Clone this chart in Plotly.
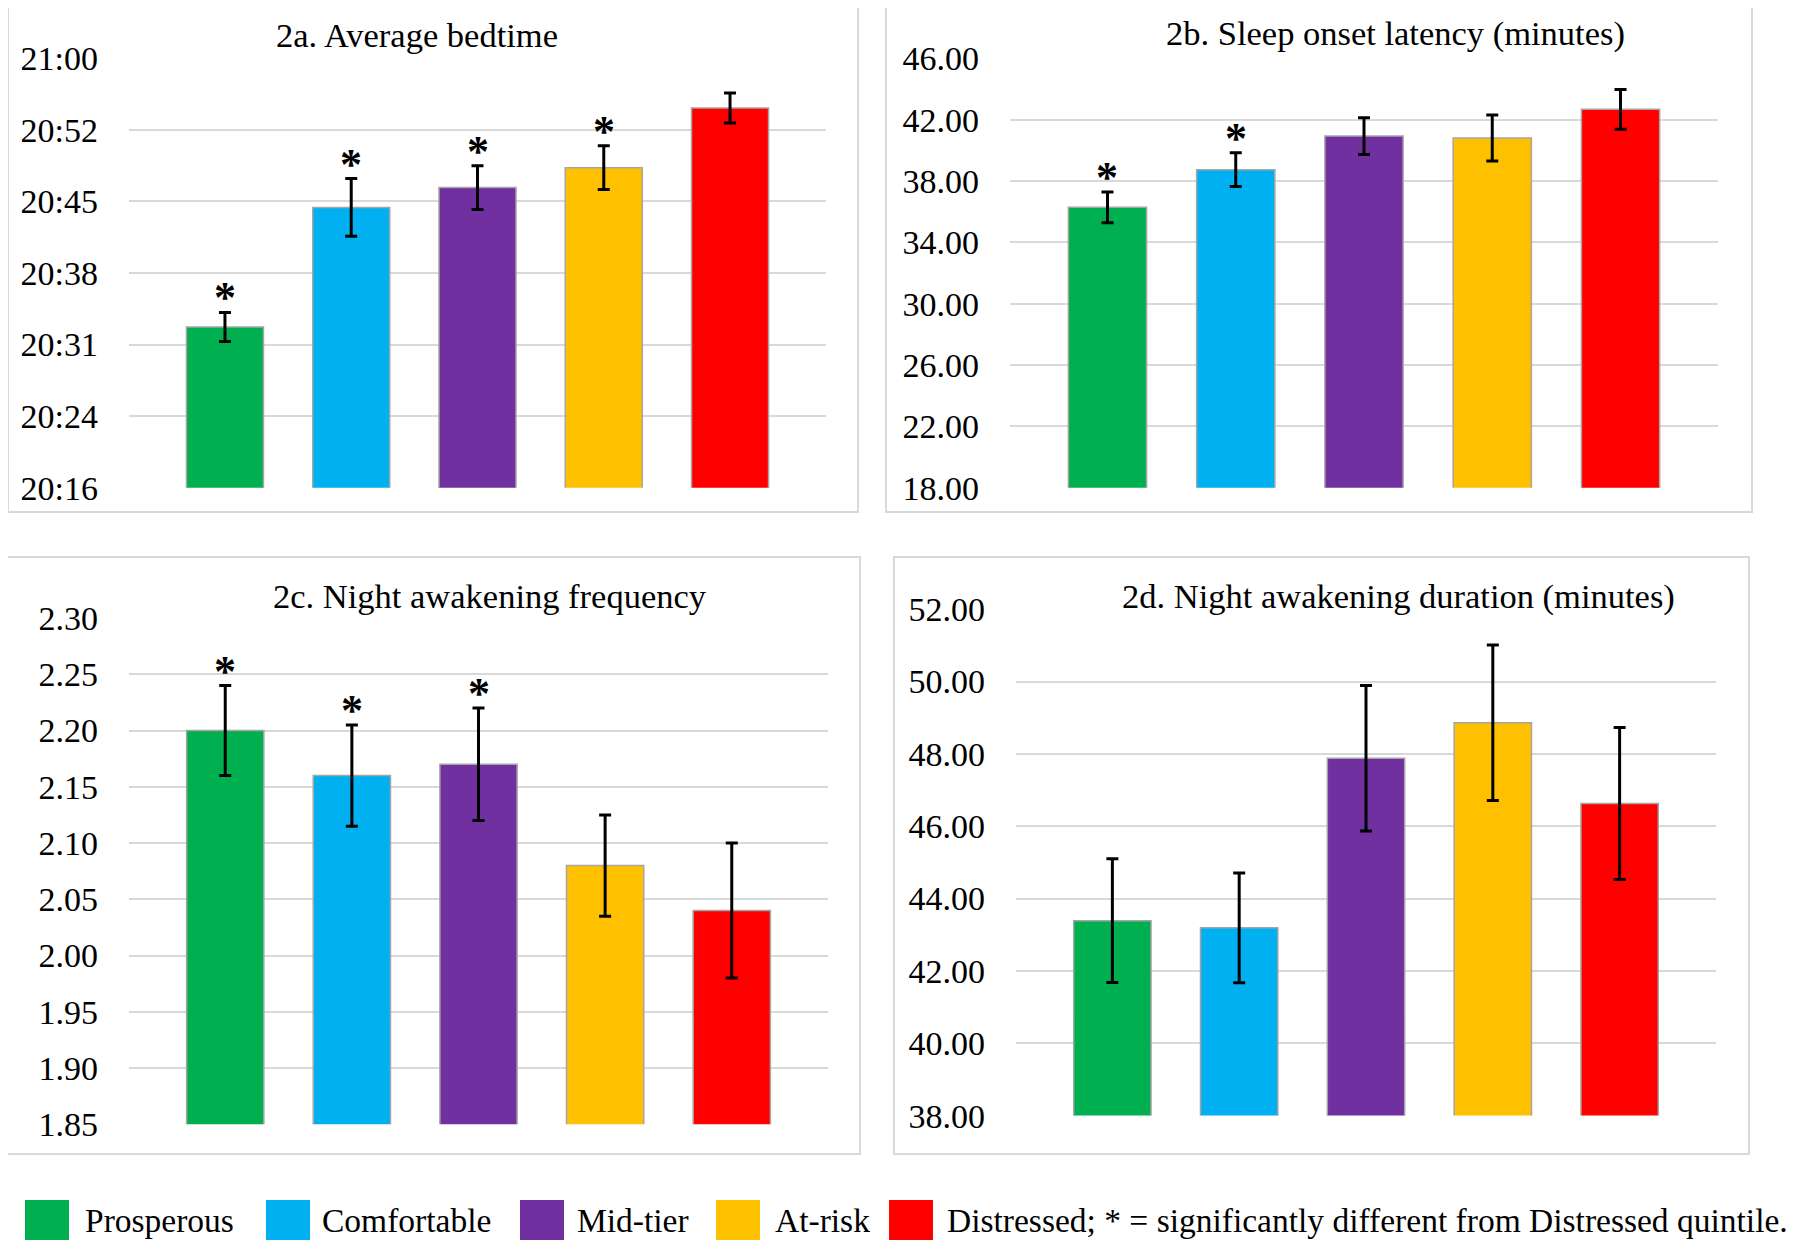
import plotly.graph_objects as go

# ---------------- data ----------------
categories = ["Prosperous", "Comfortable", "Mid-tier", "At-risk", "Distressed"]
colors = ["#00B050", "#00B0F0", "#7030A0", "#FFC000", "#FF0000"]

# 2a: bedtime expressed as minutes after 20:00
bedtime_min = [32.97, 45.0, 47.0, 49.0, 55.0]
bedtime_err = [1.46, 2.9, 2.2, 2.2, 1.5]
bedtime_sig = [True, True, True, True, False]
bedtime_tickvals = [16.8, 24.0, 31.2, 38.4, 45.6, 52.8, 60.0]
bedtime_ticktext = ["20:16", "20:24", "20:31", "20:38", "20:45", "20:52", "21:00"]

# 2b: sleep onset latency (minutes)
latency = [36.28, 38.74, 40.93, 40.80, 42.67]
latency_err = [1.0, 1.1, 1.2, 1.5, 1.3]
latency_sig = [True, True, False, False, False]

# 2c: night awakening frequency
freq = [2.20, 2.16, 2.17, 2.08, 2.04]
freq_err = [0.04, 0.045, 0.05, 0.045, 0.06]
freq_sig = [True, True, True, False, False]

# 2d: night awakening duration (minutes)
duration = [43.39, 43.19, 47.88, 48.86, 46.63]
duration_err = [1.71, 1.52, 2.01, 2.15, 2.10]
duration_sig = [False, False, False, False, False]

titles = ["2a. Average bedtime", "2b. Sleep onset latency (minutes)",
          "2c. Night awakening frequency", "2d. Night awakening duration (minutes)"]
legend_note = "; * = significantly different from Distressed quintile."

# ---------------- layout constants ----------------
W, H = 1800, 1248
OFF = 8  # page body margin
FONT = "Liberation Serif, Times New Roman, serif"
GRID = "#d9d9d9"


def px_x(p):
    return (p - OFF) / W


def px_y(p):
    return 1 - (p - OFF) / H


panels = [
    dict(vals=bedtime_min, err=bedtime_err, sig=bedtime_sig,
         plot=(129, 826, 58.3, 487.7), yrange=[16.8, 60.0],
         tickvals=bedtime_tickvals, ticktext=bedtime_ticktext, fmt=None,
         title_xy=(417, 35), frame=(8, 858, 7, 512), title_bg=False),
    dict(vals=latency, err=latency_err, sig=latency_sig,
         plot=(1010, 1718, 58.3, 487.7), yrange=[18, 46],
         tickvals=[18, 22, 26, 30, 34, 38, 42, 46], ticktext=None, fmt=".2f",
         title_xy=(1395, 33), frame=(886, 1752, 5, 512), title_bg=False),
    dict(vals=freq, err=freq_err, sig=freq_sig,
         plot=(129, 828, 618, 1124.3), yrange=[1.85, 2.30],
         tickvals=[1.85, 1.90, 1.95, 2.00, 2.05, 2.10, 2.15, 2.20, 2.25, 2.30],
         ticktext=None, fmt=".2f",
         title_xy=(490, 596), frame=(7, 860, 557, 1154), title_bg=False),
    dict(vals=duration, err=duration_err, sig=duration_sig,
         plot=(1016, 1716, 609.2, 1115.6), yrange=[38, 52],
         tickvals=[38, 40, 42, 44, 46, 48, 50, 52], ticktext=None, fmt=".2f",
         title_xy=(1398, 596), frame=(894, 1749, 557, 1154), title_bg=True),
]

fig = go.Figure()
annotations = []
shapes = []
layout_axes = {}

for k, p in enumerate(panels):
    n = "" if k == 0 else str(k + 1)
    xa, ya = "x" + n, "y" + n
    x0, x1, yt, yb = p["plot"]

    fig.add_trace(go.Bar(
        x=list(range(len(categories))), y=p["vals"],
        marker=dict(color=colors, line=dict(color="#a5a5a5", width=1.5)),
        width=0.61,
        error_y=dict(type="data", array=p["err"], visible=True,
                     color="black", thickness=3, width=6),
        xaxis=xa, yaxis=ya, showlegend=False, hovertext=categories,
    ))

    layout_axes["xaxis" + n] = dict(
        domain=[px_x(x0), px_x(x1)], range=[-0.76, 4.76],
        showticklabels=False, showgrid=False, zeroline=False,
        showline=False, ticks="", anchor=ya, fixedrange=True,
        automargin=False)
    yax = dict(
        domain=[px_y(yb), px_y(yt)], range=p["yrange"],
        tickvals=p["tickvals"], showgrid=True, gridcolor=GRID, gridwidth=1.5,
        zeroline=False, showline=False, ticks="", anchor=xa,
        ticklabelstandoff=30, automargin=False,
        tickfont=dict(family=FONT, size=34, color="black"), fixedrange=True)
    if p["ticktext"] is not None:
        yax["ticktext"] = p["ticktext"]
    if p["fmt"]:
        yax["tickformat"] = p["fmt"]
    layout_axes["yaxis" + n] = yax

    # significance stars
    for i, s in enumerate(p["sig"]):
        if s:
            annotations.append(dict(
                x=i, y=p["vals"][i] + p["err"][i], xref=xa, yref=ya,
                text="<b>*</b>", showarrow=False, yanchor="bottom",
                xanchor="center", yshift=-12,
                font=dict(family=FONT, size=44, color="black")))

    # panel title
    tx, ty = p["title_xy"]
    annotations.append(dict(
        x=px_x(tx), y=px_y(ty), xref="paper", yref="paper",
        text=titles[k], showarrow=False, xanchor="center", yanchor="middle",
        font=dict(family=FONT, size=34.5, color="black"),
        bgcolor="white" if p["title_bg"] else None, borderpad=8))

    # panel frame
    fx0, fx1, fy0, fy1 = p["frame"]
    shapes.append(dict(type="rect", xref="paper", yref="paper",
                       x0=px_x(fx0), x1=px_x(fx1), y0=px_y(fy1), y1=px_y(fy0),
                       line=dict(color=GRID, width=2), layer="below"))

# ---------------- custom legend ----------------
legend_swatch_x = [25, 266, 520, 716, 889]
legend_text_x = [83, 320, 575, 773, 945]
legend_labels = categories[:-1] + [categories[-1] + legend_note]
for i, lab in enumerate(legend_labels):
    sx = legend_swatch_x[i]
    shapes.append(dict(type="rect", xref="paper", yref="paper",
                       x0=px_x(sx), x1=px_x(sx + 44), y0=px_y(1240), y1=px_y(1200),
                       fillcolor=colors[i], line=dict(width=0)))
    annotations.append(dict(
        x=px_x(legend_text_x[i]), y=px_y(1220), xref="paper", yref="paper",
        text=lab, showarrow=False, xanchor="left", yanchor="middle",
        font=dict(family=FONT, size=33.5, color="black")))

fig.update_layout(
    width=W, height=H, margin=dict(l=0, r=0, t=0, b=0, autoexpand=False),
    paper_bgcolor="white", plot_bgcolor="white",
    annotations=annotations, shapes=shapes,
    font=dict(family=FONT, color="black"),
    **layout_axes)

fig.write_html("out.html")
